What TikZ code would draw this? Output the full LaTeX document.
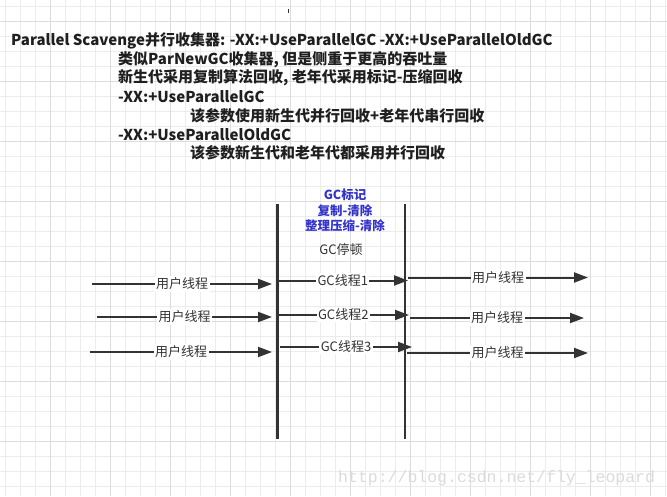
\documentclass[tikz,border=0pt]{standalone}
\usepackage{fontspec}
\setmainfont{Noto Sans CJK SC}
\newfontfamily\wmfont{Liberation Mono}
\usetikzlibrary{arrows.meta}
\definecolor{ink}{HTML}{333333}
\definecolor{gcblue}{RGB}{51,51,204}
\definecolor{gridminor}{HTML}{ECECEC}
\definecolor{gridmajor}{HTML}{DCDCDC}
\tikzset{
  head/.style={font=\bfseries\fontsize{15}{18}\selectfont, text=black!88, anchor=base west, inner sep=0pt},
  arr/.style={draw=ink, line width=2pt, -{Triangle[length=14pt,width=10pt]}},
  lbl/.style={font=\fontsize{13}{15}\selectfont, text=ink, fill=white, inner sep=1.5pt},
  wall/.style={draw=ink, line width=2.2pt},
  gcb/.style={font=\bfseries\fontsize{12.5}{15}\selectfont, text=gcblue, inner sep=0pt},
}
\begin{document}
\begin{tikzpicture}[x=1pt,y=-1pt]
\useasboundingbox (0,0) rectangle (667,496);
\fill[white] (0,0) rectangle (667,496);
% grid
\foreach \i in {0,...,44} {
  \pgfmathsetmacro{\gx}{5+15*\i}
  \draw[gridminor, line width=0.8pt] (\gx,0) -- (\gx,496);
}
\foreach \i in {0,...,32} {
  \pgfmathsetmacro{\gy}{6.5+15*\i}
  \draw[gridminor, line width=0.8pt] (0,\gy) -- (667,\gy);
}
\foreach \i in {0,...,10} {
  \pgfmathsetmacro{\gx}{50+60*\i}
  \draw[gridmajor, line width=0.8pt] (\gx,0) -- (\gx,496);
}
\foreach \i in {0,...,7} {
  \pgfmathsetmacro{\gy}{21.5+60*\i}
  \draw[gridmajor, line width=0.8pt] (0,\gy) -- (667,\gy);
}
% tiny mark at top
\draw[ink, line width=0.8pt] (288,9) -- (288,13);

% header text
\node[head] (t1) at (11,45.5) {Parallel Scavenge并行收集器: -XX:+UseParallelGC -XX:+UseParallelOldGC};
\node[head] (t2) at (118,64) {类似ParNewGC收集器, 但是侧重于更高的吞吐量};
\node[head] (t3) at (118,82.5) {新生代采用复制算法回收, 老年代采用标记-压缩回收};
\node[head] (t4) at (118,102) {-XX:+UseParallelGC};
\node[head] (t5) at (190,121) {该参数使用新生代并行回收+老年代串行回收};
\node[head] (t6) at (118,140) {-XX:+UseParallelOldGC};
\node[head] (t7) at (190,158.5) {该参数新生代和老年代都采用并行回收};

% GC labels
\node[gcb] (g1) at (345,195) {GC标记};
\node[gcb] (g2) at (345,211) {复制-清除};
\node[gcb] (g3) at (345,226) {整理压缩-清除};
\node[font=\fontsize{13}{15}\selectfont, text=ink, inner sep=0pt] (g4) at (341,250) {GC停顿};

% walls
\coordinate (lt) at (277.5,204);
\coordinate (lb) at (277.5,439);
\coordinate (rt) at (405,204);
\coordinate (rb) at (405,439);
\draw[wall] (lt) -- (lb);
\draw[wall] (rt) -- (rb);

% left user threads
\coordinate (a1) at (92,284);   \coordinate (b1) at (272,284);
\coordinate (a2) at (97,317);   \coordinate (b2) at (272,317);
\coordinate (a3) at (90,352);   \coordinate (b3) at (272,352);
\draw[arr] (a1) -- node[lbl] (u1) {用户线程} (b1);
\draw[arr] (a2) -- node[lbl] (u2) {用户线程} (b2);
\draw[arr] (a3) -- node[lbl] (u3) {用户线程} (b3);

% GC threads
\coordinate (c1) at (277.5,280.5); \coordinate (d1) at (408,280.5);
\coordinate (c2) at (277.5,315);   \coordinate (d2) at (409,315);
\coordinate (c3) at (280,347);     \coordinate (d3) at (412,347);
\draw[arr] (c1) -- node[lbl] (m1) {GC线程1} (d1);
\draw[arr] (c2) -- node[lbl] (m2) {GC线程2} (d2);
\draw[arr] (c3) -- node[lbl] (m3) {GC线程3} (d3);

% right user threads
\coordinate (e1) at (408,277.5); \coordinate (f1) at (588,277.5);
\coordinate (e2) at (410,318);   \coordinate (f2) at (584,318);
\coordinate (e3) at (407,353);   \coordinate (f3) at (588,353);
\draw[arr] (e1) -- node[lbl] (v1) {用户线程} (f1);
\draw[arr] (e2) -- node[lbl] (v2) {用户线程} (f2);
\draw[arr] (e3) -- node[lbl] (v3) {用户线程} (f3);

% watermark
\node[font=\wmfont\fontsize{16.5}{18}\selectfont, text=black!14, anchor=base west, inner sep=0pt] (wm) at (338,482) {http://blog.csdn.net/fly\_leopard};
\end{tikzpicture}
\end{document}
